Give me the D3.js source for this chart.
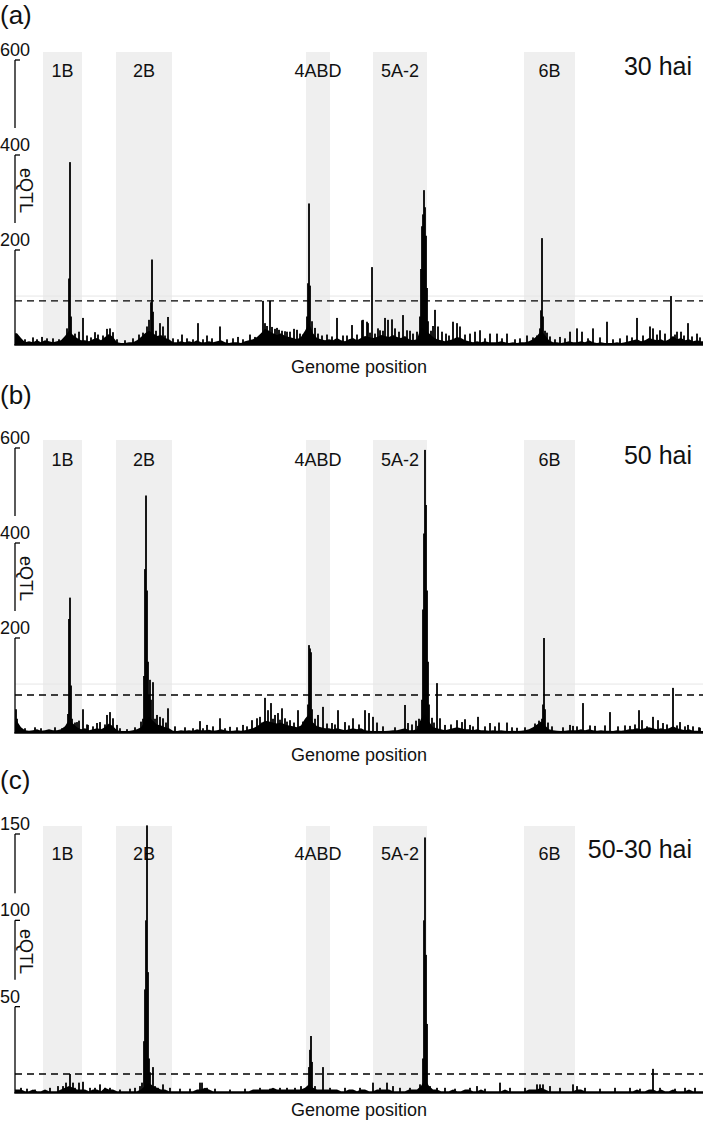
<!DOCTYPE html>
<html>
<head>
<meta charset="utf-8">
<script src="https://cdn.jsdelivr.net/npm/d3@7"></script>
<style>
  html, body { margin: 0; padding: 0; background: #fff; }
  svg { display: block; font-family: "Liberation Sans", Arial, Helvetica, sans-serif; }
</style>
</head>
<body>
<svg id="chart" width="709" height="1122"></svg>
<script>
// ---------------- DATA ----------------
const regionNames = ["1B", "2B", "4ABD", "5A-2", "6B"];
const regionStart = [28, 101, 291, 358, 509];
const regionEnd   = [67, 157, 315, 412, 560];

const panelLetters = ["(a)", "(b)", "(c)"];
const panelTitles  = ["30 hai", "50 hai", "50-30 hai"];
const yMaxValues   = [600, 600, 150];
const yTickValues  = [[0, 200, 400, 600], [0, 200, 400, 600], [0, 50, 100, 150]];
const thresholds   = [93, 80, 11];
const refLines     = [103, 103, null];
const xLabel = "Genome position";
const yLabel = "eQTL";
const genomeLength = 688;
const noiseBin = 4;

// background eQTL counts per genome bin (4 units each)
const noiseA = [
  25,15,6,8,6,10,6,10,8,6,
  8,10,19,30,21,15,10,10,8,12,
  15,10,17,23,17,6,4,4,6,6,
  10,17,25,30,25,19,21,15,12,6,
  6,8,6,8,6,10,6,6,8,6,
  8,10,6,4,6,6,4,8,10,12,
  17,25,34,30,25,21,25,19,17,15,
  12,17,30,46,25,15,12,10,12,10,
  15,10,8,12,15,10,15,19,17,15,
  17,21,19,17,21,17,15,19,12,10,
  12,38,30,25,17,12,10,8,10,12,
  17,15,10,8,6,8,6,8,6,6,
  6,8,6,4,6,4,6,6,8,12,
  19,30,21,10,6,6,4,6,8,6,
  6,8,6,10,6,4,6,4,4,4,
  6,4,6,8,10,12,8,10,15,12,
  10,12,8,12,19,12,15,10,12,8,
  10,8
];
const noiseB = [
  25,12,6,5,6,8,5,6,8,6,
  6,8,14,28,20,12,8,10,6,8,
  10,8,12,20,14,6,4,4,4,6,
  8,12,24,34,26,18,16,12,10,5,
  4,6,5,6,5,8,6,6,7,5,
  6,8,6,4,5,6,5,6,8,10,
  14,20,26,24,22,20,22,18,16,14,
  12,16,30,40,22,14,12,10,10,8,
  10,8,6,8,10,8,10,6,5,4,
  4,4,4,5,6,6,8,10,6,6,
  8,30,40,24,12,10,8,6,8,10,
  12,10,8,8,6,8,6,6,5,6,
  5,6,5,4,5,4,5,6,8,12,
  18,24,16,8,6,5,4,5,6,6,
  6,8,6,8,6,5,6,5,5,4,
  6,5,6,8,8,10,8,10,12,10,
  8,10,8,10,14,10,8,6,8,5,
  5,4
];
const noiseC = [
  2,2,1,1,2,1,1,2,1,1,
  1,2,3,4,3,2,2,2,1,2,
  2,1,3,2,2,1,1,1,1,1,
  1,2,4,6,4,3,2,2,1,1,
  1,1,1,1,1,2,2,3,2,1,
  1,1,1,1,1,1,1,1,1,2,
  2,2,2,2,3,2,2,2,2,2,
  2,2,3,5,3,2,2,2,2,2,
  2,1,1,2,2,1,2,2,1,1,
  2,2,2,2,1,1,1,1,2,2,
  2,4,8,4,2,2,1,1,1,2,
  1,1,2,2,1,1,2,1,1,1,
  1,1,2,1,1,1,1,1,2,2,
  2,3,2,1,1,1,1,1,1,1,
  2,2,1,1,1,1,1,1,1,1,
  1,1,1,1,1,2,1,1,2,2,
  1,2,1,1,2,1,1,1,2,1,
  1,1
];

// prominent spikes: [genome position, eQTL count]
const spikesA = [
  [27,17],[32,14],[52,35],[54,140],[55,385],[56,60],[68,57],[80,27],[83,22],[92,34],[95,35],[98,27],
  [132,39],[134,53],[136,90],[137,180],[138,70],[145,46],[148,39],[153,59],[167,22],[183,46],[192,20],
  [205,39],[223,17],[235,22],[240,17],[248,93],[250,46],[252,40],[255,93],[257,38],[260,34],[264,32],
  [267,30],[270,29],[275,28],[282,32],[292,60],[293,130],[294,298],[295,125],[297,50],[307,20],
  [322,57],[328,20],[337,42],[347,52],[348,53],[352,49],[353,46],[357,164],[363,35],[365,31],[370,57],
  [373,53],[377,54],[380,35],[388,63],[392,31],[398,24],
  [405,60],[406,160],[407,250],[408,275],[409,326],[410,290],[411,230],[412,120],[413,50],
  [420,74],[423,39],[427,28],[438,49],[442,46],[445,39],[455,24],[460,28],[465,31],[475,24],[482,24],
  [492,24],[512,20],[525,35],[526,73],[527,225],[528,60],[530,30],[545,17],[555,28],[562,35],[567,28],
  [578,35],[592,49],[612,20],[622,57],[635,39],[638,35],[645,31],[656,103],[662,28],[666,28],[673,46],[682,24]
];
const spikesB = [
  [1,50],[2,30],[53,40],[54,240],[55,285],[56,100],[57,30],[62,23],[68,50],[73,17],[82,21],[85,23],
  [92,38],[95,44],[98,31],[102,17],
  [129,120],[130,345],[131,500],[132,300],[133,150],[134,80],[135,112],[136,70],[138,107],
  [142,38],[145,34],[148,31],[153,52],[185,25],[192,17],[205,31],[215,13],[228,17],[237,27],[242,31],
  [245,34],[250,74],[253,48],[256,63],[260,38],[263,42],[267,52],[270,31],[275,27],[283,48],
  [293,60],[294,185],[295,178],[296,170],[297,50],[303,38],[308,55],[317,21],[323,48],[330,23],
  [338,31],[350,48],[354,42],[358,34],[390,59],[393,21],[403,15],
  [407,70],[408,260],[409,420],[410,596],[411,480],[412,300],[413,150],[414,60],
  [422,105],[425,31],[430,17],[442,27],[447,23],[450,29],[455,17],[463,34],[475,21],[484,22],[492,22],
  [502,11],[527,30],[528,60],[529,200],[530,50],[555,17],[558,15],[568,63],[580,15],[595,44],[615,15],
  [624,48],[627,27],[638,34],[643,27],[648,21],[658,95],[665,23],[673,17],[685,11]
];
const spikesC = [
  [43,4],[51,6],[55,11],[58,6],[64,6],[68,6.5],[85,5],[95,3],[125,4],
  [129,30],[130,60],[131,100],[132,155],[133,70],[134,20],[135,12],[138,15],[148,5],
  [185,6],[187,6],[294,15],[295,25],[296,33],[297,18],[308,15],
  [358,6],[372,6],[378,4],[408,20],[409,100],[410,148],[411,80],[412,40],
  [422,3],[462,4],[485,6],[522,5],[525,5],[528,5],[558,5],[562,4],[638,14]
];

// small background spikes: [genome position, eQTL count]
const minorA = [
  [5,14],[10,12],[18,16],[22,12],[38,14],[44,12],[60,24],[64,28],[72,20],[76,16],[88,20],[102,12],
  [110,10],[118,14],[124,22],[128,26],[141,30],[150,20],[158,14],[163,12],[172,14],[178,12],[188,12],
  [197,14],[212,12],[218,14],[228,12],[245,16],[262,36],[272,28],[279,34],[285,24],[288,22],[300,36],
  [303,24],[312,22],[317,18],[332,20],[342,22],[355,26],[360,24],[368,30],[384,28],[395,30],[402,28],
  [416,30],[418,40],[431,24],[434,20],[450,22],[470,14],[487,14],[500,12],[505,14],[518,16],[522,20],
  [532,26],[535,18],[540,12],[550,14],[573,14],[585,16],[598,12],[605,14],[617,16],[628,20],[642,22],
  [650,24],[660,22],[669,20],[677,18],[685,16]
];
const minorB = [
  [5,12],[10,10],[20,12],[26,10],[40,12],[47,10],[60,22],[64,26],[72,18],[78,14],[90,18],[105,10],
  [112,8],[120,12],[126,24],[128,30],[140,30],[151,22],[160,14],[170,12],[178,10],[188,10],[198,14],
  [210,10],[222,12],[232,14],[247,22],[258,30],[265,28],[272,24],[279,22],[288,24],[300,30],[312,20],
  [320,18],[334,16],[344,18],[362,22],[368,14],[380,12],[397,18],[401,26],[404,30],[417,32],[419,22],
  [436,18],[458,14],[470,14],[480,14],[497,12],[510,12],[520,20],[524,26],[533,22],[537,14],[548,12],
  [562,14],[575,16],[590,16],[603,14],[610,16],[620,18],[632,14],[652,18],[662,16],[670,14],[678,14],[684,12]
];
const minorC = [
  [6,3],[12,2.5],[20,2],[35,3],[48,4],[60,3],[75,3],[80,3],[90,3],[105,2],[115,2.5],[120,3],[127,6],
  [140,4],[143,3],[155,3],[165,2.5],[175,2.5],[192,3],[200,2.5],[215,2],[230,2.5],[245,3],[255,2.5],
  [265,3],[272,3],[280,3],[286,4],[300,4],[315,3],[330,3],[345,3],[365,3],[385,3],[395,3],[405,5],
  [415,4],[430,3],[440,2.5],[455,3],[470,2.5],[495,3],[510,3],[535,4],[545,3],[570,3],[585,2.5],
  [600,3],[615,3],[625,2.5],[645,3],[660,2.5],[670,3],[680,3]
];

const noiseSeries = [noiseA, noiseB, noiseC];
const spikeSeries = [spikesA.concat(minorA), spikesB.concat(minorB), spikesC.concat(minorC)];

// ---------------- LAYOUT ----------------
const layout = [
  { letterY: 24,  bandTop: 52,  top: 60,  base: 345,  regionY: 77,  titleY: 75,  xLabY: 373 },
  { letterY: 404, bandTop: 440, top: 448, base: 733,  regionY: 466, titleY: 464, xLabY: 761 },
  { letterY: 789, bandTop: 826, top: 834, base: 1093, regionY: 860, titleY: 858, xLabY: 1116 }
];
const xLeft = 15, xRight = 703;

const svg = d3.select("#chart");
const x = d3.scaleLinear().domain([0, genomeLength]).range([xLeft, xRight]);

layout.forEach((L, p) => {
  const g = svg.append("g");
  const y = d3.scaleLinear().domain([0, yMaxValues[p]]).range([L.base, L.top]);

  // chromosome bands
  g.selectAll("rect.band").data(regionNames).enter().append("rect")
    .attr("class", "band")
    .attr("x", (d, i) => x(regionStart[i]))
    .attr("width", (d, i) => x(regionEnd[i]) - x(regionStart[i]))
    .attr("y", L.bandTop)
    .attr("height", L.base - L.bandTop)
    .attr("fill", "#efefef");

  g.selectAll("text.region").data(regionNames).enter().append("text")
    .attr("class", "region")
    .attr("x", (d, i) => x((regionStart[i] + regionEnd[i]) / 2))
    .attr("y", L.regionY)
    .attr("text-anchor", "middle")
    .attr("font-size", 18)
    .attr("fill", "#111")
    .text(d => d);

  // faint reference line
  if (refLines[p] !== null) {
    g.append("line")
      .attr("x1", xLeft).attr("x2", xRight)
      .attr("y1", y(refLines[p])).attr("y2", y(refLines[p]))
      .attr("stroke", "#e6e6e6").attr("stroke-width", 1);
  }

  // background noise
  const noise = noiseSeries[p];
  const pts = noise.map((v, i) => [i * noiseBin + noiseBin / 2, v]);
  pts.unshift([0, noise[0]]);
  pts.push([genomeLength, noise[noise.length - 1]]);
  const area = d3.area()
    .x(d => x(d[0]))
    .y0(y(0))
    .y1(d => y(d[1]))
    .curve(d3.curveLinear);
  g.append("path").datum(pts).attr("d", area).attr("fill", "#000");

  // spikes
  g.selectAll("rect.spike").data(spikeSeries[p]).enter().append("rect")
    .attr("class", "spike")
    .attr("x", d => x(d[0]) - 0.9)
    .attr("width", 1.8)
    .attr("y", d => y(d[1]))
    .attr("height", d => y(0) - y(d[1]))
    .attr("fill", "#000");

  // threshold
  g.append("line")
    .attr("x1", xLeft).attr("x2", xRight)
    .attr("y1", y(thresholds[p])).attr("y2", y(thresholds[p]))
    .attr("stroke", "#000").attr("stroke-width", 1.4)
    .attr("stroke-dasharray", "7,5");

  // x axis baseline
  g.append("line")
    .attr("x1", xLeft - 0.7).attr("x2", xRight)
    .attr("y1", L.base).attr("y2", L.base)
    .attr("stroke", "#000").attr("stroke-width", 1.6);

  // y axis: segmented with labels sitting in gaps
  const ticks = yTickValues[p].slice().sort((a, b) => b - a);
  ticks.forEach((t, k) => {
    const ty = y(t);
    if (t !== 0) {
      const next = ticks[k + 1];
      const endY = next === 0 ? L.base : y(next) - 27;
      g.append("line")
        .attr("x1", xLeft).attr("x2", xLeft)
        .attr("y1", ty).attr("y2", endY)
        .attr("stroke", "#000").attr("stroke-width", 1.3);
      g.append("line")
        .attr("x1", xLeft).attr("x2", xLeft + 5)
        .attr("y1", ty).attr("y2", ty)
        .attr("stroke", "#000").attr("stroke-width", 1.3);
      g.append("text")
        .attr("x", 0).attr("y", ty - 4)
        .attr("font-size", 18).attr("fill", "#111")
        .text(t);
    }
  });

  // y label
  const yLabY = (y(yTickValues[p][2]) + y(yTickValues[p][1])) / 2 - 12;
  g.append("text")
    .attr("transform", `translate(${xLeft + 5},${yLabY}) rotate(90)`)
    .attr("text-anchor", "middle")
    .attr("font-size", 18).attr("fill", "#111")
    .text(yLabel);

  // x label
  g.append("text")
    .attr("x", (xLeft + xRight) / 2).attr("y", L.xLabY)
    .attr("text-anchor", "middle")
    .attr("font-size", 18).attr("fill", "#111")
    .text(xLabel);

  // panel letter & title
  g.append("text").attr("x", 0).attr("y", L.letterY)
    .attr("font-size", 26).attr("fill", "#111").text(panelLetters[p]);
  g.append("text").attr("x", 692).attr("y", L.titleY)
    .attr("text-anchor", "end")
    .attr("font-size", 25).attr("fill", "#111").text(panelTitles[p]);
});
</script>
</body>
</html>
